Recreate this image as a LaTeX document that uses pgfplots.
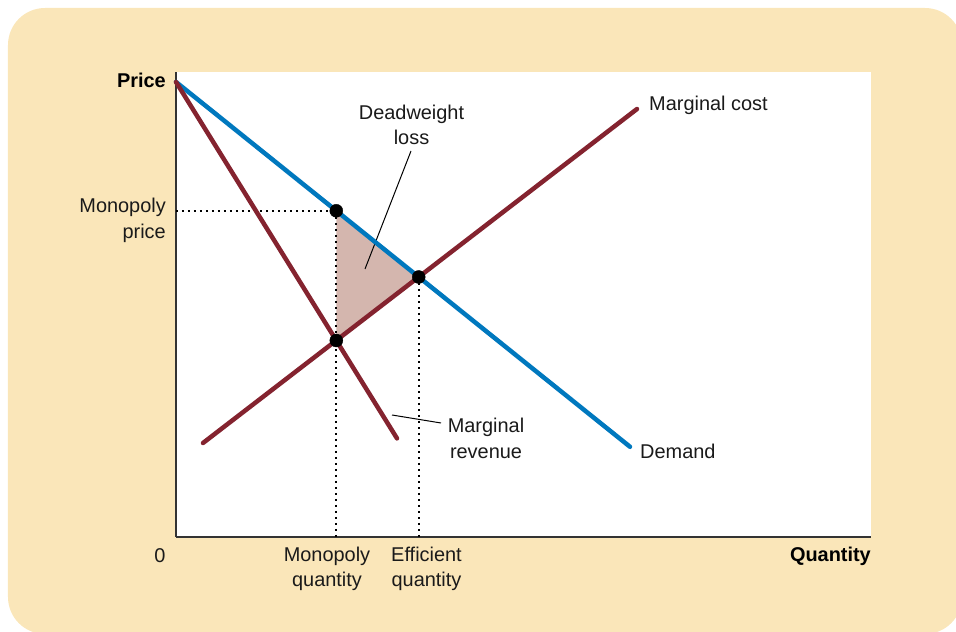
\documentclass[border=0pt]{standalone}
\usepackage{pgfplots}
\pgfplotsset{compat=1.18}
\usepackage{fontspec}
\setmainfont{Liberation Sans}
\definecolor{beige}{HTML}{FAE6B9}
\definecolor{dblue}{HTML}{0078BE}
\definecolor{maroon}{HTML}{84232F}
\definecolor{dwl}{HTML}{D4B6AE}
\definecolor{txt}{HTML}{1A1A1A}
\tikzset{lbl/.style={font=\fontsize{20}{25.5}\selectfont, text=txt, inner sep=0pt},
         blbl/.style={font=\fontsize{20}{24}\selectfont\bfseries, text=black, inner sep=0pt}}
\begin{document}
\begin{tikzpicture}[x=1bp,y=1bp]
\path[use as bounding box] (-176,-95) rectangle (780,537);
\clip (-176,-95) rectangle (780,537);
\fill[beige, rounded corners=37bp] (-168,-97) rectangle (786,529);
\begin{axis}[
  scale only axis, width=695bp, height=465bp,
  xmin=0, xmax=695, ymin=0, ymax=465,
  axis x line*=bottom, axis y line*=left,
  axis line style={-, draw=black!80, line width=1.2bp},
  axis background/.style={fill=white},
  xtick=\empty, ytick=\empty,
  clip=false,
]
% deadweight loss triangle
\addplot[fill=dwl, draw=none] coordinates {(160.3,326.2) (242.7,260) (160.3,196.5)} -- cycle;
% dotted guides
\addplot[black, line width=2.2bp, dash pattern=on 2.2bp off 3.8bp] coordinates {(0,326.2) (160.3,326.2)};
\addplot[black, line width=2.2bp, dash pattern=on 2.2bp off 3.8bp] coordinates {(160.3,326.2) (160.3,0)};
\addplot[black, line width=2.2bp, dash pattern=on 2.2bp off 3.8bp] coordinates {(242.7,260) (242.7,0)};
% leader lines
\addplot[black, line width=1bp] coordinates {(235,386) (189,268)};
\addplot[black, line width=1bp] coordinates {(216,122) (265,114)};
% curves
\addplot[dblue, line width=4.5bp, line cap=round] coordinates {(0,455) (454,90.2)};
\addplot[maroon, line width=4.5bp, line cap=round] coordinates {(0,455) (221,98.6)};
\addplot[maroon, line width=4.5bp, line cap=round] coordinates {(27,94) (461,428)};
% points
\addplot[only marks, mark=*, mark size=6.5bp, mark options={fill=black, draw=black}] coordinates {(160.3,326.2) (160.3,196.5) (242.7,260)};
% labels
\node[blbl, anchor=east] at (axis cs:-10,457) {Price};
\node[lbl, anchor=east, align=right] at (axis cs:-10,316.5) {Monopoly\\price};
\node[lbl] at (axis cs:-16,-19) {0};
\node[blbl, anchor=east] at (axis cs:695,-19) {Quantity};
\node[lbl, align=center] at (axis cs:151,-32) {Monopoly\\quantity};
\node[lbl, align=center] at (axis cs:250.5,-32) {Efficient\\quantity};
\node[lbl, align=center] at (axis cs:235.5,412) {Deadweight\\loss};
\node[lbl, anchor=west] at (axis cs:473,432) {Marginal cost};
\node[lbl, anchor=west] at (axis cs:464,86) {Demand};
\node[lbl, align=center] at (axis cs:310,98.5) {Marginal\\revenue};
\end{axis}
\end{tikzpicture}
\end{document}
